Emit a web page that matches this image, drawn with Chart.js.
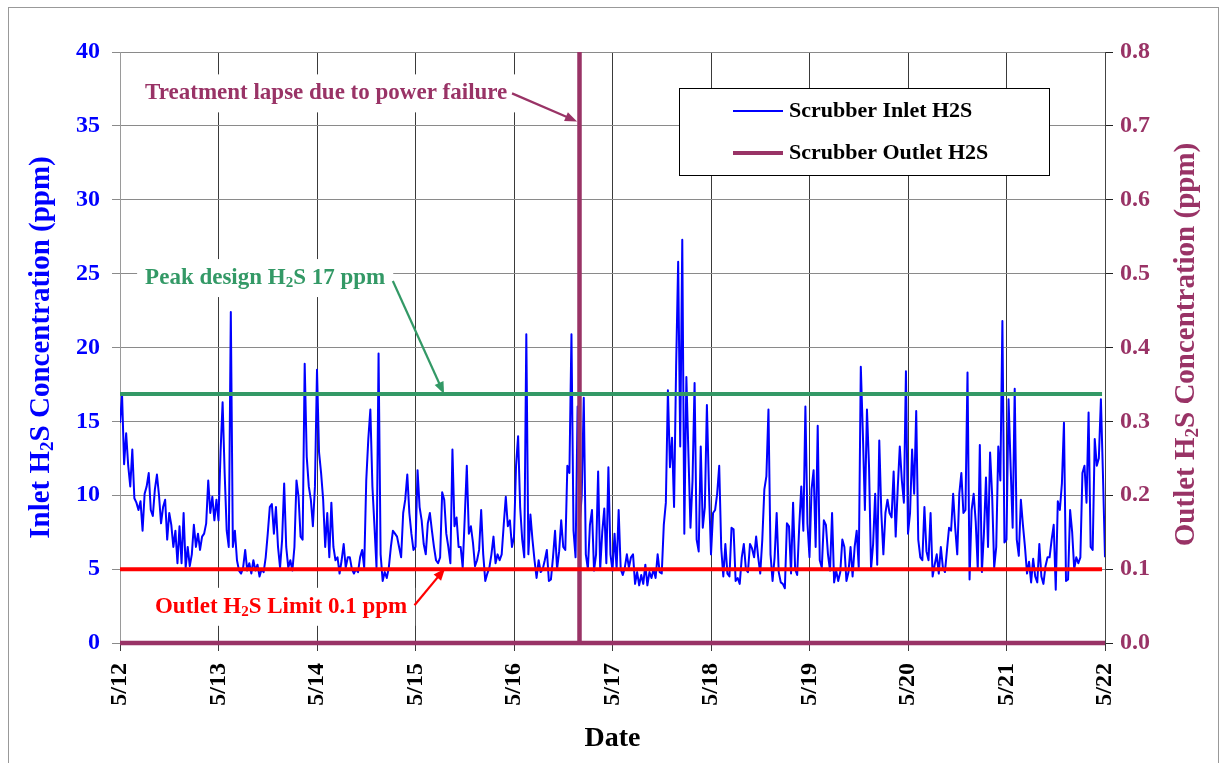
<!DOCTYPE html>
<html>
<head>
<meta charset="utf-8">
<title>Scrubber H2S</title>
<script src="https://cdn.jsdelivr.net/npm/chart.js@4.4.1/dist/chart.umd.min.js"></script>
<style>
  html, body { margin: 0; padding: 0; background: #fff; }
  #wrap { position: relative; width: 1226px; height: 763px; }
</style>
</head>
<body>
<div id="wrap"><canvas id="h2sChart" width="1226" height="763"></canvas></div>
<script>
// x axis: days since 5/12, one tick per day
var dateLabels = ['5/12', '5/13', '5/14', '5/15', '5/16', '5/17', '5/18', '5/19', '5/20', '5/21', '5/22'];

// inlet H2S (ppm), half-hourly readings, one array per day
var inletDay12 = [14.9, 16.8, 12.1, 14.2, 12.0, 10.6, 13.1, 9.8, 9.5, 9.0, 9.6, 7.6,
                  10.1, 10.6, 11.5, 9.0, 8.6, 10.4, 11.4, 10.0, 8.1, 9.2, 9.7, 7.0,
                  8.8, 8.0, 6.5, 7.6, 5.4, 7.9, 5.4, 8.8, 5.1, 6.5, 5.2, 6.0,
                  8.0, 6.5, 7.4, 6.3, 7.2, 7.4, 8.1, 11.0, 8.8, 9.9, 8.3, 9.7];
var inletDay13 = [8.3, 12.9, 16.3, 11.5, 7.6, 6.5, 22.4, 6.5, 7.6, 5.6, 4.9, 4.7,
                  5.1, 6.3, 4.9, 5.4, 4.7, 5.6, 4.9, 5.3, 4.5, 5.0, 4.8, 5.8,
                  7.4, 9.2, 9.4, 7.4, 9.2, 6.5, 5.1, 7.0, 10.8, 6.5, 5.1, 5.6,
                  4.9, 6.5, 11.0, 9.9, 7.2, 7.0, 18.9, 12.6, 10.6, 9.7, 7.9, 10.6];
var inletDay14 = [18.5, 12.9, 11.5, 9.7, 6.5, 8.8, 5.8, 9.5, 6.5, 5.6, 5.8, 4.7,
                  5.6, 6.7, 5.1, 5.8, 5.8, 5.0, 4.7, 5.0, 4.8, 5.8, 6.3, 5.1,
                  11.0, 13.8, 15.8, 10.6, 7.9, 5.1, 19.6, 6.0, 4.2, 4.8, 4.4, 5.1,
                  6.5, 7.6, 7.4, 7.2, 6.5, 5.8, 8.8, 9.7, 11.4, 8.8, 7.4, 6.3];
var inletDay15 = [6.5, 11.7, 9.2, 8.3, 6.7, 6.0, 8.1, 8.8, 7.6, 6.5, 5.6, 5.4,
                  5.8, 10.2, 9.7, 7.4, 6.5, 5.4, 13.1, 7.9, 8.5, 6.5, 6.5, 5.1,
                  8.5, 12.0, 7.4, 7.9, 6.8, 5.2, 5.6, 6.3, 9.0, 6.0, 4.2, 4.7,
                  5.1, 6.0, 7.2, 5.4, 6.0, 5.6, 6.0, 8.0, 9.9, 7.9, 8.3, 6.5];
var inletDay16 = [7.2, 12.0, 14.0, 9.2, 7.0, 5.8, 20.9, 6.0, 8.7, 7.0, 5.6, 4.4,
                  5.6, 4.8, 5.0, 5.6, 6.3, 4.2, 4.3, 5.8, 7.6, 5.0, 6.2, 8.3,
                  6.5, 6.3, 12.0, 11.5, 20.9, 7.6, 5.8, 16.0, 8.0, 10.0, 16.6, 6.0,
                  5.0, 8.0, 9.0, 4.9, 6.0, 11.6, 5.0, 7.5, 9.1, 5.4, 11.9, 6.0];
var inletDay17 = [4.9, 7.4, 5.0, 9.0, 5.0, 4.6, 5.1, 6.0, 5.1, 5.8, 6.0, 4.0,
                  4.8, 3.9, 4.6, 4.0, 5.3, 3.9, 4.8, 4.4, 5.0, 4.4, 6.0, 4.8,
                  4.7, 8.0, 9.5, 17.1, 11.9, 13.9, 9.2, 18.7, 25.8, 13.3, 27.3, 7.4,
                  18.0, 12.8, 7.8, 11.0, 17.6, 7.0, 6.2, 13.3, 7.8, 9.2, 16.1, 10.5];
var inletDay18 = [6.0, 8.8, 9.0, 10.1, 12.0, 6.4, 4.5, 6.7, 4.7, 4.5, 7.8, 7.7,
                  4.2, 4.4, 4.0, 5.8, 6.7, 5.0, 4.8, 6.7, 6.4, 5.8, 7.2, 5.8,
                  4.7, 7.0, 10.4, 11.3, 15.8, 6.0, 4.2, 5.8, 8.8, 4.8, 4.1, 4.0,
                  3.7, 8.1, 7.9, 4.7, 9.5, 5.0, 4.6, 7.9, 10.6, 7.6, 16.0, 8.1];
var inletDay19 = [5.8, 10.4, 11.7, 6.5, 14.7, 5.6, 5.1, 8.3, 8.0, 6.0, 4.9, 8.8,
                  4.1, 4.9, 4.2, 4.8, 7.0, 6.5, 4.2, 4.8, 6.5, 4.5, 6.5, 7.6,
                  5.1, 18.7, 14.2, 9.0, 15.8, 12.0, 5.0, 6.7, 10.1, 5.3, 13.7, 8.8,
                  6.0, 8.8, 9.7, 8.8, 8.5, 11.6, 7.2, 10.5, 13.3, 11.0, 9.5, 18.4];
var inletDay20 = [7.4, 8.8, 13.1, 10.1, 15.7, 7.0, 5.8, 5.6, 9.2, 6.2, 5.6, 8.8,
                  4.5, 5.3, 6.0, 4.7, 6.5, 5.1, 4.8, 6.3, 7.8, 7.6, 10.1, 7.8,
                  6.0, 10.1, 11.5, 8.8, 9.0, 18.3, 4.3, 9.0, 10.1, 8.2, 5.0, 13.4,
                  4.8, 7.4, 11.2, 6.5, 12.9, 10.0, 5.1, 6.5, 13.3, 11.0, 21.8, 6.8];
var inletDay21 = [7.0, 16.5, 12.0, 7.8, 17.2, 7.0, 5.9, 9.7, 8.0, 6.5, 4.7, 5.5,
                  4.1, 5.7, 4.5, 4.1, 6.7, 4.5, 4.0, 5.2, 5.8, 5.8, 7.0, 8.0,
                  3.6, 9.6, 9.0, 10.8, 14.9, 4.2, 4.3, 9.0, 7.5, 5.0, 5.8, 5.4,
                  5.8, 11.5, 12.0, 9.5, 15.6, 6.5, 6.3, 13.8, 12.0, 12.5, 16.5, 11.4];
var inletLast = 5.8; // reading at 5/22 00:00

// outlet H2S (ppm): zero except the lapse on 5/16 afternoon
var outletDays = [0, 4.665, 4.665, 4.665, 10];
var outletValues = [0, 0, 0.8, 0, 0];

var peakDesignPpm = 16.85; // left axis, as drawn
var outletLimitPpm = 0.1;  // right axis

var inletDays = [inletDay12, inletDay13, inletDay14, inletDay15, inletDay16,
                 inletDay17, inletDay18, inletDay19, inletDay20, inletDay21];

var inletPoints = [];
inletDays.forEach(function (vals, d) {
    vals.forEach(function (v, i) {
        inletPoints.push({ x: d + i / vals.length, y: v });
    });
});
inletPoints.push({ x: inletDays.length, y: inletLast });

var outletPoints = outletDays.map(function (d, i) { return { x: d, y: outletValues[i] }; });

var serif = '"Liberation Serif", "Times New Roman", serif';
var BLUE = '#0000ff', MAROON = '#993366', GREEN = '#339966', RED = '#ff0000';

// draw text made of pieces, some as subscript
function richWidth(ctx, parts, size) {
    var w = 0;
    parts.forEach(function (p) {
        ctx.font = 'bold ' + (p.sub ? Math.round(size * 0.65) : size) + 'px ' + serif;
        w += ctx.measureText(p.t).width;
    });
    return w;
}
function drawRich(ctx, parts, x, y, size, color, align) {
    var w = richWidth(ctx, parts, size);
    var cx = align === 'center' ? x - w / 2 : x;
    ctx.fillStyle = color;
    ctx.textBaseline = 'middle';
    ctx.textAlign = 'left';
    parts.forEach(function (p) {
        ctx.font = 'bold ' + (p.sub ? Math.round(size * 0.65) : size) + 'px ' + serif;
        ctx.fillText(p.t, cx, p.sub ? y + size * 0.22 : y);
        cx += ctx.measureText(p.t).width;
    });
    return w;
}
function arrow(ctx, x1, y1, x2, y2, color) {
    var a = Math.atan2(y2 - y1, x2 - x1), L = 13, s = 0.38;
    ctx.strokeStyle = color;
    ctx.fillStyle = color;
    ctx.lineWidth = 2.2;
    ctx.beginPath();
    ctx.moveTo(x1, y1);
    ctx.lineTo(x2 - Math.cos(a) * L * 0.8, y2 - Math.sin(a) * L * 0.8);
    ctx.stroke();
    ctx.beginPath();
    ctx.moveTo(x2, y2);
    ctx.lineTo(x2 - L * Math.cos(a - s), y2 - L * Math.sin(a - s));
    ctx.lineTo(x2 - L * Math.cos(a + s), y2 - L * Math.sin(a + s));
    ctx.closePath();
    ctx.fill();
}

// callouts in data coordinates (x in days, y in left-axis ppm)
var callouts = [
    { parts: [{ t: 'Treatment lapse due to power failure' }], color: MAROON,
      at: [0.255, 37.2], from: [3.98, 37.2], to: [4.64, 35.3] },
    { parts: [{ t: 'Peak design H' }, { t: '2', sub: true }, { t: 'S 17 ppm' }], color: GREEN,
      at: [0.255, 24.7], from: [2.77, 24.5], to: [3.29, 16.85] },
    { parts: [{ t: 'Outlet H' }, { t: '2', sub: true }, { t: 'S Limit 0.1 ppm' }], color: RED,
      at: [0.355, 2.45], from: [2.99, 2.55], to: [3.30, 5.05] }
];

var decorPlugin = {
    id: 'decor',
    beforeDraw: function (chart) {
        var ctx = chart.ctx;
        ctx.save();
        ctx.fillStyle = '#fff';
        ctx.fillRect(0, 0, chart.width, chart.height);
        ctx.strokeStyle = '#999';
        ctx.lineWidth = 1;
        ctx.strokeRect(8.5, 7.5, 1210, 780);
        ctx.restore();
    },
    afterDraw: function (chart) {
        var ctx = chart.ctx, xs = chart.scales.x, ys = chart.scales.y, ca = chart.chartArea;
        ctx.save();

        // axis titles
        var midY = (ca.top + ca.bottom) / 2;
        ctx.save();
        ctx.translate(42, midY);
        ctx.rotate(-Math.PI / 2);
        drawRich(ctx, [{ t: 'Inlet H' }, { t: '2', sub: true }, { t: 'S Concentration (ppm)' }], 0, 0, 29, BLUE, 'center');
        ctx.restore();
        ctx.save();
        ctx.translate(1187, midY - 3);
        ctx.rotate(-Math.PI / 2);
        drawRich(ctx, [{ t: 'Outlet H' }, { t: '2', sub: true }, { t: 'S Concentration (ppm)' }], 0, 0, 29, MAROON, 'center');
        ctx.restore();
        drawRich(ctx, [{ t: 'Date' }], (ca.left + ca.right) / 2, 739, 28, '#000', 'center');

        // callouts with white boxes behind the text
        callouts.forEach(function (c) {
            var tx = xs.getPixelForValue(c.at[0]), ty = ys.getPixelForValue(c.at[1]);
            var w = richWidth(ctx, c.parts, 23);
            ctx.fillStyle = '#fff';
            ctx.fillRect(tx - 8, ty - 19, w + 16, 38);
            drawRich(ctx, c.parts, tx, ty, 23, c.color, 'left');
            arrow(ctx, xs.getPixelForValue(c.from[0]), ys.getPixelForValue(c.from[1]),
                  xs.getPixelForValue(c.to[0]), ys.getPixelForValue(c.to[1]), c.color);
        });

        // legend box
        var lx = 679.5, ly = 88.5, lw = 370, lh = 87;
        ctx.fillStyle = '#fff';
        ctx.fillRect(lx, ly, lw, lh);
        ctx.strokeStyle = '#000';
        ctx.lineWidth = 1;
        ctx.strokeRect(lx, ly, lw, lh);
        var items = [
            { label: 'Scrubber Inlet H2S', color: BLUE, width: 2, y: 111 },
            { label: 'Scrubber Outlet H2S', color: MAROON, width: 4, y: 153 }
        ];
        items.forEach(function (it) {
            ctx.strokeStyle = it.color;
            ctx.lineWidth = it.width;
            ctx.beginPath();
            ctx.moveTo(733, it.y);
            ctx.lineTo(783, it.y);
            ctx.stroke();
            drawRich(ctx, [{ t: it.label }], 789, it.y, 22, '#000', 'left');
        });
        ctx.restore();
    }
};

var ctx1 = document.getElementById('h2sChart');
var h2sChart = new Chart(ctx1, {
    type: 'line',
    data: {
        datasets: [
            {   // outlet limit 0.1 ppm
                data: [{ x: 0, y: outletLimitPpm }, { x: 9.97, y: outletLimitPpm }],
                yAxisID: 'y2', borderColor: RED, borderWidth: 4, pointRadius: 0
            },
            {   // peak design 17 ppm
                data: [{ x: 0, y: peakDesignPpm }, { x: 9.97, y: peakDesignPpm }],
                yAxisID: 'y', borderColor: GREEN, borderWidth: 4, pointRadius: 0
            },
            {
                label: 'Scrubber Outlet H2S',
                data: outletPoints,
                yAxisID: 'y2', borderColor: MAROON, borderWidth: 4.5, pointRadius: 0,
                clip: { left: 3, top: 0, right: 3, bottom: 3 }
            },
            {
                label: 'Scrubber Inlet H2S',
                data: inletPoints,
                yAxisID: 'y', borderColor: BLUE, borderWidth: 2, pointRadius: 0,
                borderJoinStyle: 'round'
            }
        ]
    },
    options: {
        responsive: false,
        animation: false,
        events: [],
        layout: { padding: { top: 52, left: 0, right: 0, bottom: 0 } },
        elements: { line: { tension: 0, fill: false } },
        plugins: {
            legend: { display: false },
            tooltip: { enabled: false },
            title: { display: false }
        },
        scales: {
            x: {
                type: 'linear', min: 0, max: 10,
                afterFit: function (s) { s.height = 120; },
                ticks: {
                    stepSize: 1, autoSkip: false, maxRotation: 90, minRotation: 90,
                    padding: 12, color: '#000',
                    font: { family: serif, size: 24, weight: 'bold' },
                    callback: function (v, i) { return dateLabels[i]; }
                },
                grid: { color: '#3a3a3a', lineWidth: 1, tickLength: 8, tickColor: '#3a3a3a' },
                border: { display: false }
            },
            y: {
                position: 'left', min: 0, max: 40,
                afterFit: function (s) { s.width = 120; },
                ticks: {
                    stepSize: 5, padding: 12, color: BLUE,
                    font: { family: serif, size: 24, weight: 'bold' }
                },
                grid: { color: '#8a8a8a', lineWidth: 1, tickLength: 8, tickColor: '#8a8a8a' },
                border: { display: true, color: '#9a9a9a' }
            },
            y2: {
                position: 'right', min: 0, max: 0.8,
                afterFit: function (s) { s.width = 121; },
                ticks: {
                    stepSize: 0.1, padding: 7, color: MAROON,
                    font: { family: serif, size: 24, weight: 'bold' },
                    callback: function (v) { return v.toFixed(1); }
                },
                grid: { drawOnChartArea: false, tickLength: 8, tickColor: '#222' },
                border: { display: true, color: '#444' }
            }
        }
    },
    plugins: [decorPlugin]
});
</script>
</body>
</html>
